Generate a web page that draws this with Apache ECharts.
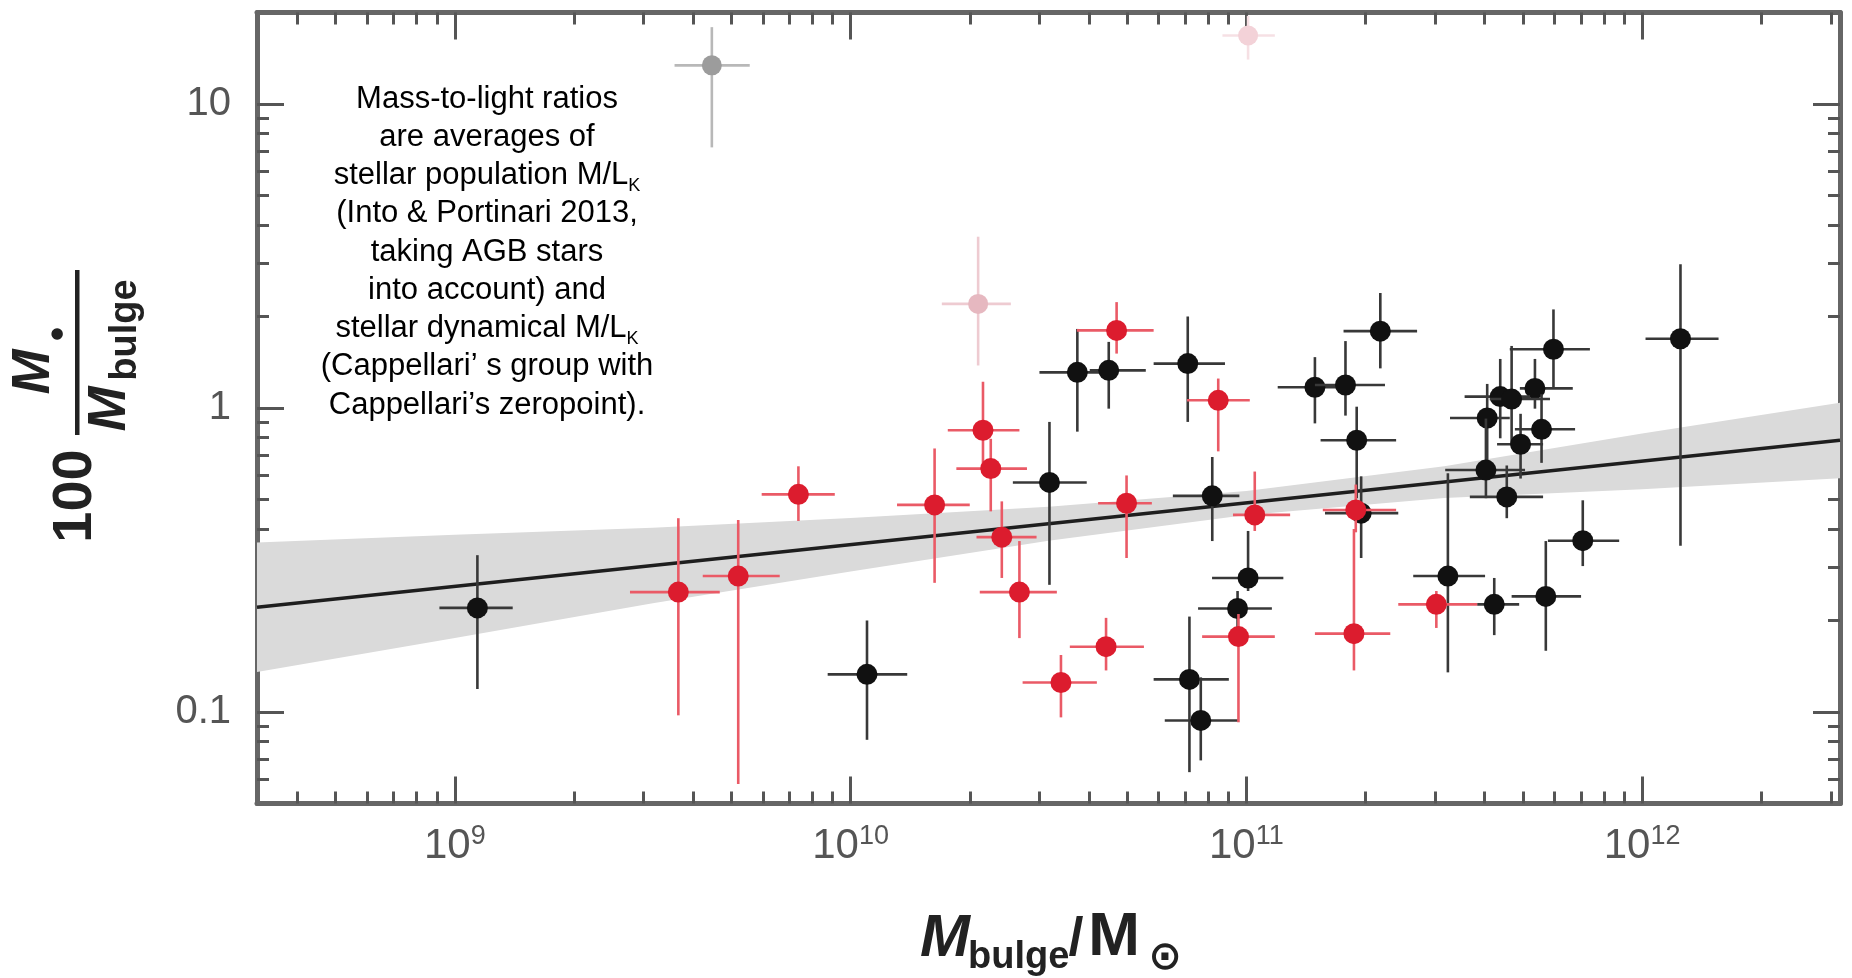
<!DOCTYPE html>
<html>
<head>
<meta charset="utf-8">
<script src="https://cdn.jsdelivr.net/npm/echarts@6/dist/echarts.min.js"></script>
<style>html,body{margin:0;padding:0;background:#fff;}#c{width:1852px;height:978px;}</style>
</head>
<body>
<div id="c"></div>
<script>
// ---------- axis ranges and ticks ----------
const xRange = [3.1623e8, 3.1623e12];
const yRange = [0.05, 20];
const xMajorTicks = [1e9, 1e10, 1e11, 1e12];
const xMajorLabels = ['9', '10', '11', '12'];
const xMinorTicks = [4e8, 5e8, 6e8, 7e8, 8e8, 9e8,
  2e9, 3e9, 4e9, 5e9, 6e9, 7e9, 8e9, 9e9,
  2e10, 3e10, 4e10, 5e10, 6e10, 7e10, 8e10, 9e10,
  2e11, 3e11, 4e11, 5e11, 6e11, 7e11, 8e11, 9e11,
  2e12, 3e12];
const yMajorTicks = [0.1, 1, 10];
const yMajorLabels = ['0.1', '1', '10'];
const yMinorTicks = [0.06, 0.07, 0.08, 0.09,
  0.2, 0.3, 0.4, 0.5, 0.6, 0.7, 0.8, 0.9,
  2, 3, 4, 5, 6, 7, 8, 9];

// ---------- black points (M_bulge, 100 M_BH/M_bulge) with error extents ----------
const blackX   = [1.14e9, 1.10e10, 3.18e10, 3.74e10, 4.49e10, 7.11e10, 8.2e10, 7.18e10, 7.67e10, 9.5e10,
                  1.01e11, 1.49e11, 1.78e11, 2.18e11, 1.90e11, 1.95e11, 3.23e11, 4.23e11, 5.71e11, 7.08e11,
                  1.25e12, 5.97e11, 5.36e11, 4.38e11, 4.68e11, 4.06e11, 5.57e11, 4.93e11, 4.03e11, 4.55e11];
const blackXLo = [9.14e8, 8.75e9, 2.57e10, 3.0e10, 4.02e10, 5.83e10, 6.52e10, 5.83e10, 6.22e10, 7.55e10,
                  8.19e10, 1.2e11, 1.49e11, 1.76e11, 1.54e11, 1.58e11, 2.64e11, 3.83e11, 4.68e11, 5.78e11,
                  1.02e12, 4.63e11, 4.91e11, 3.56e11, 4.12e11, 3.27e11, 4.77e11, 4.3e11, 3.18e11, 3.67e11];
const blackXHi = [1.40e9, 1.39e10, 3.95e10, 4.27e10, 5.57e10, 8.83e10, 9.6e10, 9.03e10, 9.53e10, 1.16e11,
                  1.24e11, 1.73e11, 2.24e11, 2.70e11, 2.39e11, 2.42e11, 4.01e11, 4.89e11, 7.01e11, 8.75e11,
                  1.56e12, 7.38e11, 6.68e11, 5.21e11, 5.85e11, 4.63e11, 6.77e11, 5.62e11, 5.06e11, 5.62e11];
const blackY   = [0.22, 0.133, 0.569, 1.31, 1.33, 1.40, 0.514, 0.128, 0.0938, 0.219,
                  0.276, 1.17, 1.19, 1.79, 0.783, 0.451, 0.28, 0.226, 0.240, 0.366,
                  1.69, 1.56, 1.16, 1.09, 1.07, 0.927, 0.851, 0.76, 0.625, 0.51];
const blackYLo = [0.119, 0.081, 0.262, 0.836, 0.995, 0.90, 0.365, 0.0634, 0.0693, 0.172,
                  0.25, 0.89, 0.944, 1.35, 0.505, 0.321, 0.135, 0.179, 0.159, 0.302,
                  0.352, 1.16, 0.995, 0.795, 0.764, 0.632, 0.66, 0.586, 0.505, 0.434];
const blackYHi = [0.328, 0.20, 0.90, 1.82, 1.65, 2.0, 0.69, 0.206, 0.13, 0.25,
                  0.394, 1.47, 1.66, 2.39, 1.01, 0.596, 0.61, 0.276, 0.365, 0.497,
                  2.97, 2.11, 1.45, 1.45, 1.60, 1.20, 1.11, 0.957, 0.923, 0.647];

// ---------- red points ----------
const redX   = [3.67e9, 5.2e9, 7.38e9, 1.63e10, 2.16e10, 2.26e10, 2.41e10, 2.67e10, 3.40e10, 4.42e10,
                4.70e10, 4.98e10, 8.49e10, 9.55e10, 1.05e11, 1.89e11, 1.87e11, 3.02e11];
const redXLo = [2.77e9, 4.23e9, 5.96e9, 1.31e10, 1.76e10, 1.85e10, 2.08e10, 2.12e10, 2.72e10, 3.58e10,
                3.73e10, 4.22e10, 7.08e10, 7.73e10, 9.25e10, 1.56e11, 1.49e11, 2.42e11];
const redXHi = [4.67e9, 6.62e9, 9.12e9, 2.0e10, 2.67e10, 2.79e10, 2.95e10, 3.32e10, 4.19e10, 5.51e10,
                5.83e10, 5.77e10, 1.02e11, 1.18e11, 1.29e11, 2.39e11, 2.31e11, 3.83e11];
const redY   = [0.248, 0.28, 0.52, 0.48, 0.845, 0.632, 0.376, 0.248, 0.125, 0.164,
                1.80, 0.486, 1.06, 0.177, 0.445, 0.462, 0.181, 0.226];
const redYLo = [0.0975, 0.058, 0.425, 0.266, 0.632, 0.457, 0.276, 0.175, 0.096, 0.137,
                1.51, 0.321, 0.72, 0.0925, 0.394, 0.39, 0.137, 0.189];
const redYHi = [0.434, 0.428, 0.643, 0.736, 1.22, 0.792, 0.493, 0.365, 0.154, 0.204,
                2.23, 0.600, 1.25, 0.21, 0.618, 0.56, 0.40, 0.25];

// ---------- faded (excluded) points: gray, pink, pale pink ----------
const fadedX   = [4.46e9, 2.10e10, 1.01e11];
const fadedXLo = [3.59e9, 1.70e10, 8.7e10];
const fadedXHi = [5.56e9, 2.54e10, 1.18e11];
const fadedY   = [13.4, 2.2, 16.8];
const fadedYLo = [7.2, 1.38, 14.0];
const fadedYHi = [17.9, 3.66, 19.5];

// ---------- regression line and its confidence band ----------
const fitX = [3.1623e8, 3.1623e12];
const fitY = [0.221, 0.783];
const bandX     = [3.1623e8, 1e9, 3.1623e9, 1e10, 3.1623e10, 1e11, 3.1623e11, 1e12, 3.1623e12];
const bandUpper = [0.361, 0.383, 0.404, 0.435, 0.473, 0.533, 0.643, 0.825, 1.04];
const bandLower = [0.1355, 0.175, 0.228, 0.290, 0.366, 0.445, 0.506, 0.540, 0.587];

// ---------- annotation ----------
const noteLines = [
  'Mass-to-light ratios',
  'are averages of',
  'stellar population M/L{k|K}',
  '(Into & Portinari 2013,',
  'taking AGB stars',
  'into account) and',
  'stellar dynamical M/L{k|K}',
  '(Cappellari\u2019 s group with',
  'Cappellari\u2019s zeropoint).'
];

const L = Math.log10;
const FONT = "'Liberation Sans', Arial, Helvetica, sans-serif";
const GRID = { left: 257, top: 12.5, width: 1583, height: 791 };
const frameColor = '#666';
const tickColor = '#555';

function xAxisDef(grid, pos, minor, labels) {
  return {
    gridIndex: grid, type: 'value', position: pos,
    min: L(xRange[0]), max: L(xRange[1]),
    axisLine: { show: !minor, onZero: false, lineStyle: { color: frameColor, width: 5 } },
    axisTick: { show: true, inside: true, length: minor ? 12 : 27,
      lineStyle: { color: tickColor, width: 3 },
      customValues: (minor ? xMinorTicks : xMajorTicks).map(L) },
    axisLabel: labels ? {
      show: true, customValues: xMajorTicks.map(L), margin: 20,
      formatter: function (v) { const i = xMajorTicks.findIndex(t => Math.abs(L(t) - v) < 1e-6); return '10{s|' + xMajorLabels[i] + '}'; },
      color: '#555', fontSize: 42, lineHeight: 46, fontFamily: FONT,
      rich: { s: { fontSize: 27, lineHeight: 22, verticalAlign: 'top', color: '#555', fontFamily: FONT } }
    } : { show: false },
    splitLine: { show: false }
  };
}
function yAxisDef(grid, pos, minor, labels) {
  return {
    gridIndex: grid, type: 'value', position: pos,
    min: L(yRange[0]), max: L(yRange[1]),
    axisLine: { show: !minor, onZero: false, lineStyle: { color: frameColor, width: 5 } },
    axisTick: { show: true, inside: true, length: minor ? 12 : 27,
      lineStyle: { color: tickColor, width: 3 },
      customValues: (minor ? yMinorTicks : yMajorTicks).map(L) },
    axisLabel: labels ? {
      show: true, customValues: yMajorTicks.map(L), margin: 26,
      formatter: function (v) { const i = yMajorTicks.findIndex(t => Math.abs(L(t) - v) < 1e-6); return yMajorLabels[i]; },
      color: '#555', fontSize: 40, fontFamily: FONT
    } : { show: false },
    splitLine: { show: false }
  };
}

function pack(xs, xl, xh, ys, yl, yh) {
  return xs.map((x, i) => [L(x), L(ys[i]), L(xl[i]), L(xh[i]), L(yl[i]), L(yh[i])]);
}
function errRender(dotColors, barColors, r) {
  return function (params, api) {
    const x = api.value(0), y = api.value(1);
    const c = api.coord([x, y]);
    const a = api.coord([api.value(2), y]), b = api.coord([api.value(3), y]);
    const d = api.coord([x, api.value(4)]), e = api.coord([x, api.value(5)]);
    const dc = Array.isArray(dotColors) ? dotColors[params.dataIndex] : dotColors;
    const bc = Array.isArray(barColors) ? barColors[params.dataIndex] : barColors;
    return { type: 'group', children: [
      { type: 'line', shape: { x1: a[0], y1: a[1], x2: b[0], y2: b[1] }, style: { stroke: bc, lineWidth: 2.6 } },
      { type: 'line', shape: { x1: d[0], y1: d[1], x2: e[0], y2: e[1] }, style: { stroke: bc, lineWidth: 2.6 } },
      { type: 'circle', shape: { cx: c[0], cy: c[1], r: r }, style: { fill: dc } }
    ] };
  };
}

const chart = echarts.init(document.getElementById('c'), null, { renderer: 'canvas' });
const option = {
  animation: false,
  backgroundColor: '#fff',
  grid: [
    Object.assign({}, GRID, { containLabel: false }),
    Object.assign({}, GRID, { containLabel: false })
  ],
  xAxis: [
    xAxisDef(0, 'bottom', false, true),
    xAxisDef(0, 'top', false, false),
    xAxisDef(1, 'bottom', true, false),
    xAxisDef(1, 'top', true, false)
  ],
  yAxis: [
    yAxisDef(0, 'left', false, true),
    yAxisDef(0, 'right', false, false),
    yAxisDef(1, 'left', true, false),
    yAxisDef(1, 'right', true, false)
  ],
  series: [
    {
      type: 'custom', xAxisIndex: 0, yAxisIndex: 0, z: 1, silent: true,
      data: [[L(bandX[0]), L(bandLower[0])]],
      renderItem: function (params, api) {
        const pts = [];
        for (let i = 0; i < bandX.length; i++) pts.push(api.coord([L(bandX[i]), L(bandUpper[i])]));
        for (let i = bandX.length - 1; i >= 0; i--) pts.push(api.coord([L(bandX[i]), L(bandLower[i])]));
        return { type: 'polygon', shape: { points: pts }, style: { fill: '#dadada' } };
      }
    },
    {
      type: 'line', xAxisIndex: 0, yAxisIndex: 0, z: 2, silent: true,
      data: fitX.map((x, i) => [L(x), L(fitY[i])]),
      symbol: 'none', lineStyle: { color: '#1e1e1e', width: 3.5 }
    },
    {
      type: 'custom', xAxisIndex: 0, yAxisIndex: 0, z: 3, silent: true,
      data: pack(fadedX, fadedXLo, fadedXHi, fadedY, fadedYLo, fadedYHi),
      renderItem: errRender(['#9c9c9c', '#e6b8c0', '#f3d2d8'], ['#b8b8b8', '#eecbd1', '#f6e0e4'], 10)
    },
    {
      type: 'custom', xAxisIndex: 0, yAxisIndex: 0, z: 4, silent: true,
      data: pack(blackX, blackXLo, blackXHi, blackY, blackYLo, blackYHi),
      renderItem: errRender('#111111', '#383838', 10.5)
    },
    {
      type: 'custom', xAxisIndex: 0, yAxisIndex: 0, z: 5, silent: true,
      data: pack(redX, redXLo, redXHi, redY, redYLo, redYHi),
      renderItem: errRender('#dc1c2e', '#ea5a66', 10.5)
    }
  ],
  graphic: [
    // annotation
    { type: 'text', x: 487, y: 80, silent: true,
      style: { text: noteLines.join('\n'), align: 'center', verticalAlign: 'top',
        font: '31px ' + FONT, fill: '#000', lineHeight: 38.25,
        rich: { k: { fontSize: 18, lineHeight: 16, verticalAlign: 'bottom', fill: '#000', fontFamily: FONT } } } },
    // y-axis title: 100 M_bullet / M_bulge (rotated)
    { type: 'text', x: 76, y: 496, rotation: Math.PI / 2, silent: true,
      style: { text: '100', font: 'bold 56px ' + FONT, fill: '#222', align: 'center', verticalAlign: 'middle' } },
    { type: 'rect', silent: true, shape: { x: 75, y: 270, width: 4.5, height: 165 }, style: { fill: '#222' } },
    { type: 'text', x: 34, y: 372, rotation: Math.PI / 2, silent: true,
      style: { text: 'M', font: 'italic bold 54px ' + FONT, fill: '#222', align: 'center', verticalAlign: 'middle' } },
    { type: 'text', x: 57, y: 334, rotation: Math.PI / 2, silent: true,
      style: { text: '\u25CF', font: '15px "DejaVu Sans", sans-serif', fill: '#222', align: 'center', verticalAlign: 'middle' } },
    { type: 'text', x: 110, y: 409, rotation: Math.PI / 2, silent: true,
      style: { text: 'M', font: 'italic bold 54px ' + FONT, fill: '#222', align: 'center', verticalAlign: 'middle' } },
    { type: 'text', x: 126, y: 330, rotation: Math.PI / 2, silent: true,
      style: { text: 'bulge', font: 'bold 38px ' + FONT, fill: '#222', align: 'center', verticalAlign: 'middle' } },
    // x-axis title: M_bulge / M_sun
    { type: 'text', x: 945, y: 939, silent: true,
      style: { text: 'M', font: 'italic bold 60px ' + FONT, fill: '#222', align: 'center', verticalAlign: 'middle' } },
    { type: 'text', x: 968, y: 958, silent: true,
      style: { text: 'bulge', font: 'bold 38px ' + FONT, fill: '#222', align: 'left', verticalAlign: 'middle' } },
    { type: 'text', x: 1076, y: 940, silent: true,
      style: { text: '/', font: 'bold 54px ' + FONT, fill: '#222', align: 'center', verticalAlign: 'middle' } },
    { type: 'text', x: 1114, y: 938, silent: true,
      style: { text: 'M', font: 'bold 62px ' + FONT, fill: '#222', align: 'center', verticalAlign: 'middle' } },
    { type: 'text', x: 1165, y: 959, silent: true,
      style: { text: '\u2299', font: 'bold 40px "DejaVu Sans", sans-serif', fill: '#222', align: 'center', verticalAlign: 'middle' } }
  ]
};
chart.setOption(option);
</script>
</body>
</html>
